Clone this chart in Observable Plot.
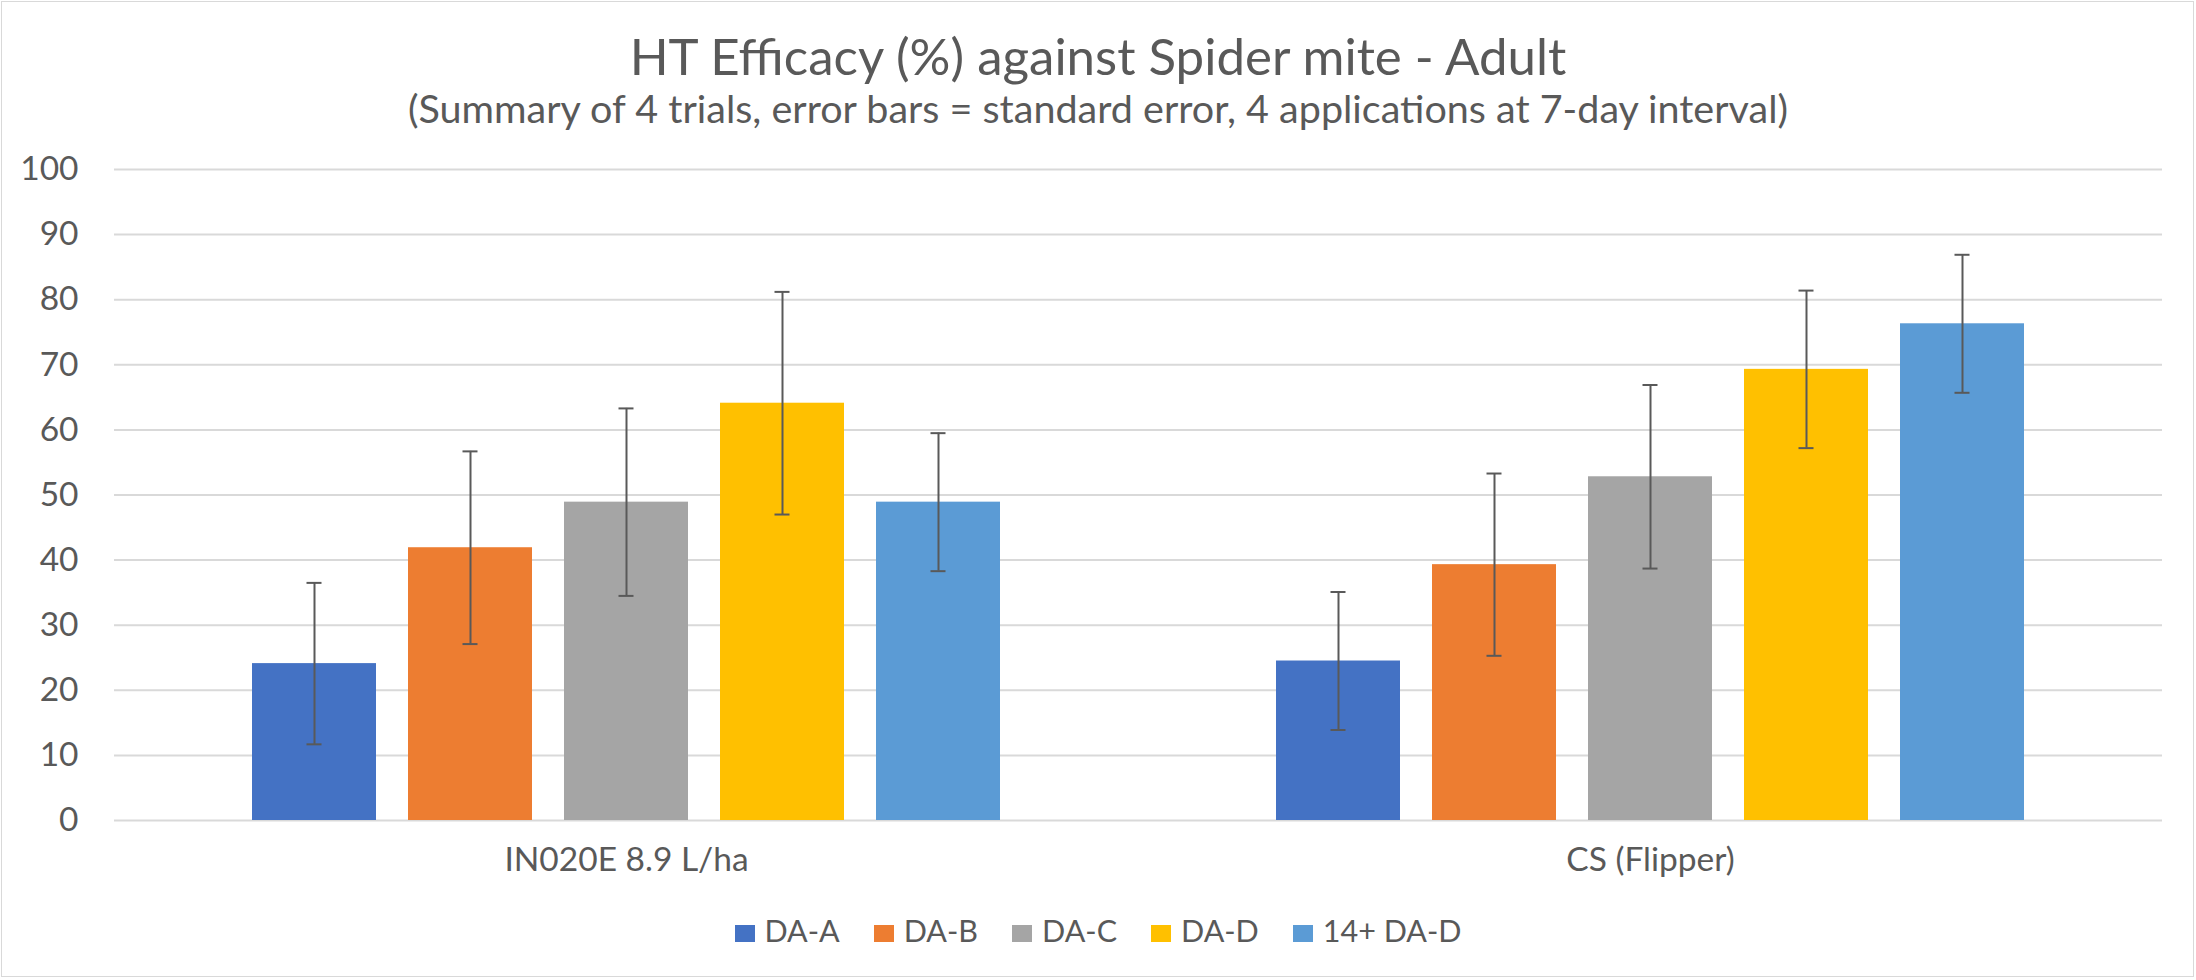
<!DOCTYPE html>
<html>
<head>
<meta charset="utf-8">
<script src="https://cdn.jsdelivr.net/npm/d3@7"></script>
<script src="https://cdn.jsdelivr.net/npm/@observablehq/plot@0.6"></script>
<style>
  html, body { margin: 0; padding: 0; background: #fff; }
  body { width: 2196px; height: 980px; overflow: hidden; position: relative; font-family: Lato, "Open Sans", sans-serif; color: #595959; }
  #frame { position: absolute; left: 1px; top: 1px; width: 2191px; height: 974px; border: 1.5px solid #d9d9d9; pointer-events: none; z-index: 5; }
  #header { position: relative; height: 130px; }
  #title { position: absolute; top: 30px; left: 0; width: 100%; text-align: center; font-size: 51px; line-height: 1; }
  #subtitle { position: absolute; top: 88px; left: 0; width: 100%; text-align: center; font-size: 39.5px; line-height: 1; }
  #chart svg { display: block; }
  #legend { height: 90px; display: flex; justify-content: center; align-items: center; font-size: 30.5px; line-height: 1; padding-bottom: 10px; box-sizing: border-box; }
  .item { display: flex; align-items: center; margin: 0 17px; }
  .sw { width: 20px; height: 17px; margin-right: 10px; position: relative; top: 3px; }
</style>
</head>
<body>
<div id="frame"></div>
<div id="header">
  <div id="title">HT Efficacy (%) against Spider mite - Adult</div>
  <div id="subtitle">(Summary of 4 trials, error bars = standard error, 4 applications at 7-day interval)</div>
</div>
<div id="chart"></div>
<div id="legend"></div>
<script>
const categories = ["IN020E 8.9 L/ha", "CS (Flipper)"];
const series = ["DA-A", "DA-B", "DA-C", "DA-D", "14+ DA-D"];
const colors = ["#4472C4", "#ED7D31", "#A5A5A5", "#FFC000", "#5B9BD5"];
const valuesIN020E = [24.1, 41.9, 48.9, 64.1, 48.9];
const seIN020E = [12.4, 14.8, 14.4, 17.1, 10.6];
const valuesCS = [24.5, 39.3, 52.8, 69.3, 76.3];
const seCS = [10.6, 14.0, 14.1, 12.1, 10.6];
const yTicks = [0, 10, 20, 30, 40, 50, 60, 70, 80, 90, 100];

const rows = [];
[[valuesIN020E, seIN020E], [valuesCS, seCS]].forEach(([vals, ses], ci) => {
  series.forEach((s, si) => {
    rows.push({category: categories[ci], series: s, value: vals[si], lo: vals[si] - ses[si], hi: vals[si] + ses[si]});
  });
});

const chart = Plot.plot({
  width: 2196,
  height: 760,
  marginTop: 39,
  marginBottom: 70,
  marginLeft: 114,
  marginRight: 34,
  style: {fontFamily: "Lato, 'Open Sans', sans-serif", fontSize: "33.5px", color: "#595959", background: "white"},
  fx: {domain: categories, padding: 0, axis: "bottom", tickSize: 0, tickPadding: 27, label: null},
  x: {domain: series, paddingInner: 0.208, paddingOuter: 0.873, axis: null},
  y: {domain: [0, 100], ticks: yTicks, tickSize: 0, tickPadding: 36, label: null},
  color: {domain: series, range: colors},
  marks: [
    Plot.ruleY(yTicks, {stroke: "#d9d9d9", strokeWidth: 2}),
    Plot.barY(rows, {fx: "category", x: "series", y: "value", fill: "series"}),
    Plot.ruleX(rows, {fx: "category", x: "series", y1: "lo", y2: "hi", stroke: "#595959", strokeWidth: 2}),
    Plot.tickY(rows, {fx: "category", x: "series", y: "lo", stroke: "#595959", strokeWidth: 2, inset: 54.5}),
    Plot.tickY(rows, {fx: "category", x: "series", y: "hi", stroke: "#595959", strokeWidth: 2, inset: 54.5})
  ]
});
document.getElementById("chart").appendChild(chart);

const legend = document.getElementById("legend");
series.forEach((s, i) => {
  const item = document.createElement("div");
  item.className = "item";
  const sw = document.createElement("div");
  sw.className = "sw";
  sw.style.background = colors[i];
  const t = document.createElement("span");
  t.textContent = s;
  item.appendChild(sw);
  item.appendChild(t);
  legend.appendChild(item);
});
</script>
</body>
</html>
